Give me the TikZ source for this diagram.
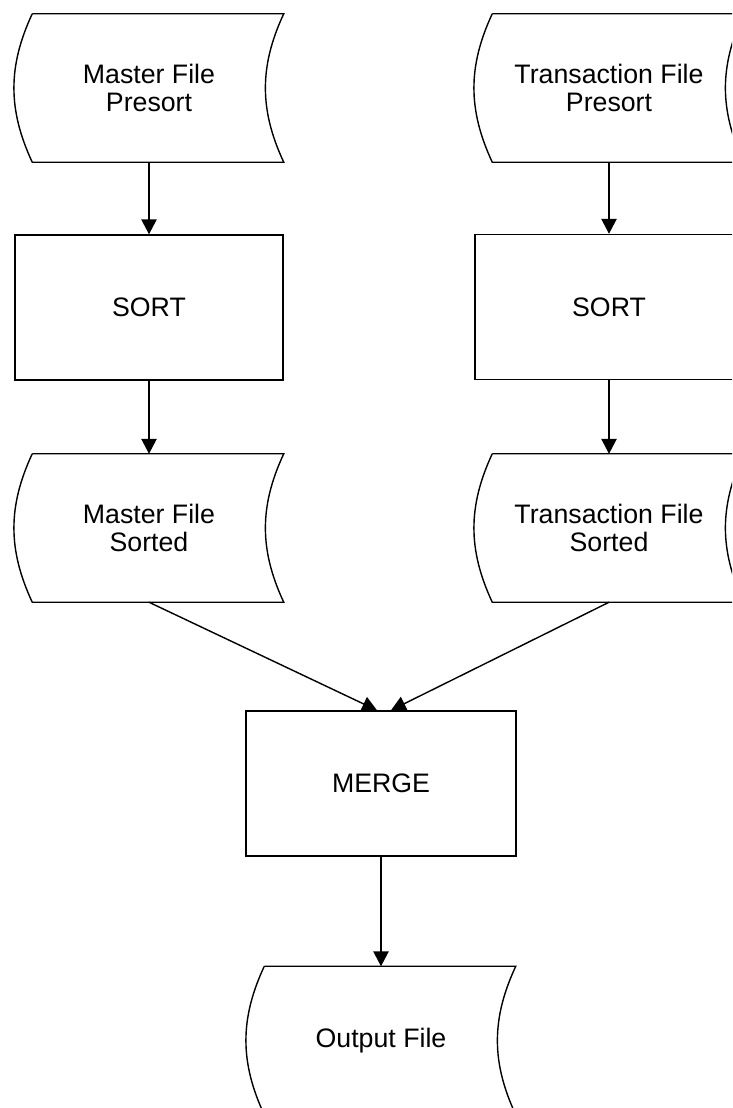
\documentclass[tikz,border=0pt]{standalone}
\usepackage{fontspec}
\setmainfont{Liberation Sans}
\usetikzlibrary{arrows.meta}

\begin{document}
\begin{tikzpicture}[x=0.025cm, y=-0.025cm, line width=1pt,
    every node/.style={align=center, font=\fontsize{19}{20}\selectfont, inner sep=0pt},
    store/.style={minimum width=6.7cm, minimum height=3.675cm},
    proc/.style={draw, minimum width=6.7cm, minimum height=3.625cm},
    flow/.style={-{Triangle[length=0.37cm, width=0.38cm]}}]
        \clip (0,0) rectangle (732,1108);
        \fill[white] (0,0) rectangle (732,1108);

        \node[store] (mpre) at (149,88) {Master File\\Presort};
        \node[proc] (msrt) at (149,307.5) {SORT};
        \node[store] (mout) at (149,528) {Master File\\Sorted};
        \node[store] (tpre) at (609,88) {Transaction File\\Presort};
        \node[proc] (tsrt) at (609,307) {SORT};
        \node[store] (tout) at (609,528) {Transaction File\\Sorted};
        \node[proc, minimum width=6.75cm] (merge) at (381,783.5) {MERGE};
        \node[store] (final) at (381,1040.5) {Output File};

        % stored data outlines
        \foreach \n in {mpre,mout,tpre,tout,final}
            \draw ([xshift=0.45cm]\n.north west) -- (\n.north east) to[bend right=25] (\n.south east)
                -- ([xshift=0.45cm]\n.south west) to[bend left=25] ([xshift=0.45cm]\n.north west);

        \draw[flow] (mpre) -- (msrt);
        \draw[flow] (msrt) -- (mout);
        \draw[flow] (tpre) -- (tsrt);
        \draw[flow] (tsrt) -- (tout);
        \draw[flow] (mout.south) -- ([xshift=-0.1cm]merge.north);
        \draw[flow] (tout.south) -- ([xshift=0.25cm]merge.north);
        \draw[flow] (merge) -- (final);
    \end{tikzpicture}
\end{document}
